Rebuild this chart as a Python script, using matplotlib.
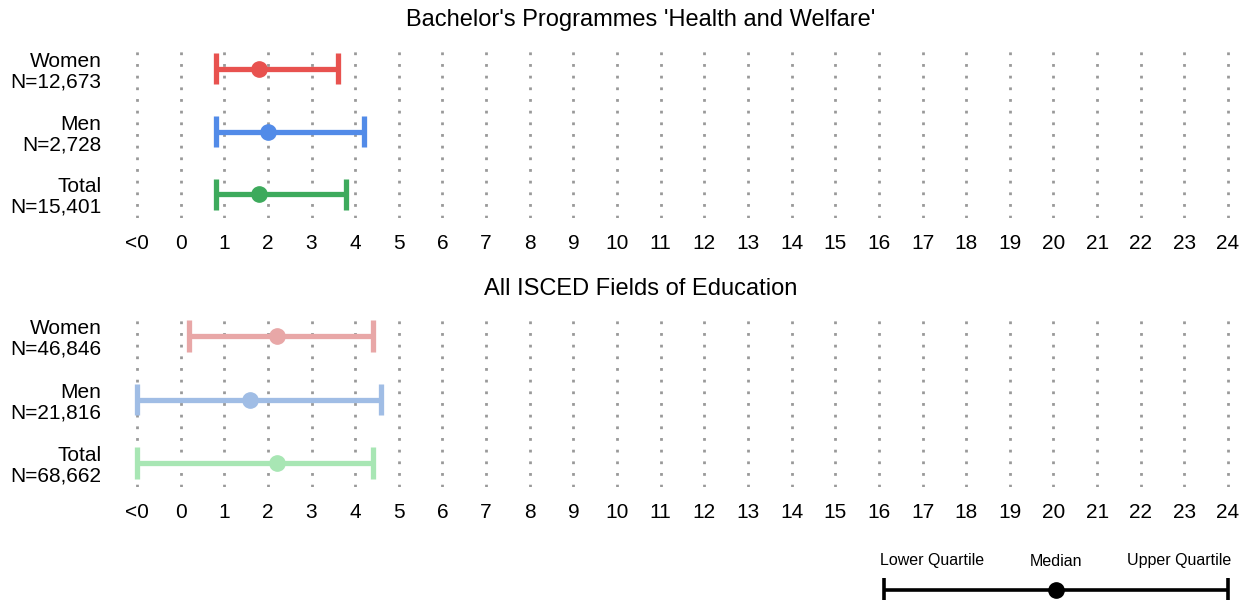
import matplotlib
matplotlib.use("Agg")
import matplotlib.pyplot as plt

plt.rcParams['font.family'] = ['Liberation Sans', 'DejaVu Sans']

# ---- data ----
tick_labels = ["<0"] + [str(i) for i in range(25)]
tick_pos = list(range(-1, 25))

groups = ["Women", "Men", "Total"]

top_title = "Bachelor's Programmes 'Health and Welfare'"
top_n = ["12,673", "2,728", "15,401"]
top_lower = [0.8, 0.8, 0.8]
top_median = [1.8, 2.0, 1.8]
top_upper = [3.6, 4.2, 3.8]
top_colors = ["#E8524F", "#528BE8", "#3DAA5C"]

bot_title = "All ISCED Fields of Education"
bot_n = ["46,846", "21,816", "68,662"]
bot_lower = [0.2, -1.0, -1.0]
bot_median = [2.2, 1.6, 2.2]
bot_upper = [4.4, 4.6, 4.4]
bot_colors = ["#E8A7A7", "#A0BDE5", "#A8E6B4"]

key_labels = ["Lower Quartile", "Median", "Upper Quartile"]
key_values = [16.12, 20.06, 24.0]

W, H = 1252, 600
fig = plt.figure(figsize=(W / 100, H / 100), dpi=100)

px_per_unit = (1228 - 137) / 25.0
xmin, xmax = -1.4, 24.4
left_px = 137 - 0.4 * px_per_unit
right_px = 1228 + 0.4 * px_per_unit


def make_panel(top_px, bot_px, title, title_y_px, ns, lows, meds, ups, cols):
    ax = fig.add_axes([left_px / W, 1 - bot_px / H, (right_px - left_px) / W, (bot_px - top_px) / H])
    ax.set_xlim(xmin, xmax)
    ax.set_ylim(2.38, -0.38)
    for x in tick_pos:
        ax.axvline(x, color="#999999", lw=2.0, linestyle=(0, (1, 3.2)), zorder=0)
    for i, g in enumerate(groups):
        ax.plot([lows[i], ups[i]], [i, i], color=cols[i], lw=3.8, solid_capstyle="butt", zorder=2)
        for xe in (lows[i], ups[i]):
            ax.plot([xe, xe], [i - 0.25, i + 0.25], color=cols[i], lw=3.8, solid_capstyle="butt", zorder=2)
        ax.plot([meds[i]], [i], "o", color=cols[i], ms=11, zorder=3)
    ax.set_xticks(tick_pos)
    ax.set_xticklabels(tick_labels, fontsize=15)
    ax.set_yticks(range(len(groups)))
    ax.set_yticklabels([f"{g}\nN={n}" for g, n in zip(groups, ns)], fontsize=15,
                       linespacing=1.12, multialignment="right")
    ax.tick_params(axis="both", length=0)
    ax.tick_params(axis="x", pad=11.5)
    ax.tick_params(axis="y", pad=13)
    for s in ax.spines.values():
        s.set_visible(False)
    fig.text(641 / W, 1 - title_y_px / H, title, ha="center", va="center", fontsize=17)
    return ax


make_panel(45, 218, top_title, 20, top_n, top_lower, top_median, top_upper, top_colors)
make_panel(312, 487, bot_title, 289, bot_n, bot_lower, bot_median, bot_upper, bot_colors)

# ---- key ----
kax = fig.add_axes([left_px / W, 0, (right_px - left_px) / W, 60 / H])
kax.set_xlim(xmin, xmax)
kax.set_ylim(60, 0)
kax.axis("off")
ky = 50
kax.plot([key_values[0], key_values[2]], [ky, ky], color="black", lw=2.6, solid_capstyle="butt", clip_on=False)
for xe in (key_values[0], key_values[2]):
    kax.plot([xe, xe], [ky - 12, ky + 12], color="black", lw=2.6, solid_capstyle="butt", clip_on=False)
kax.plot([key_values[1]], [ky], "o", color="black", ms=11, clip_on=False)
kax.text(key_values[0] - 0.1, 21, key_labels[0], ha="left", va="center", fontsize=11.5)
kax.text(key_values[1], 21, key_labels[1], ha="center", va="center", fontsize=11.5)
kax.text(key_values[2] + 0.07, 21, key_labels[2], ha="right", va="center", fontsize=11.5)

fig.savefig("out.png", dpi=100)
